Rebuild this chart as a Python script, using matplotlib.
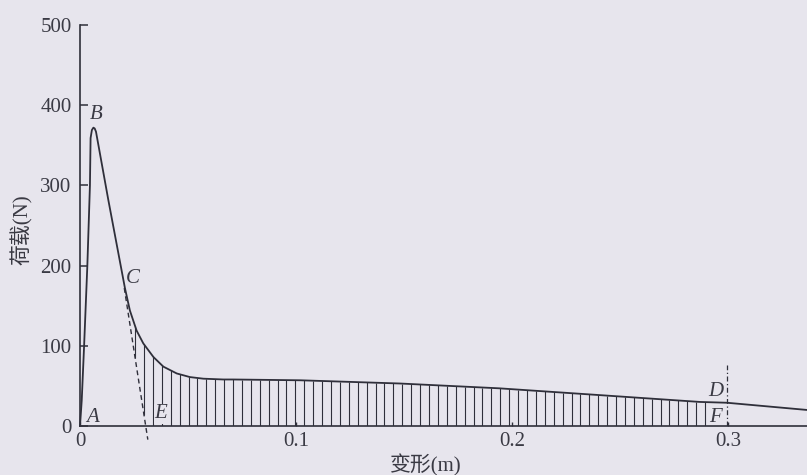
import numpy as np
import matplotlib
matplotlib.use('Agg')
import matplotlib.pyplot as plt

# ---- data ----
deformation = [0.0, 0.0008, 0.0019, 0.0034, 0.0046, 0.0049, 0.0055, 0.0062, 0.0068, 0.0074,
               0.0131, 0.0208, 0.0231, 0.0262, 0.0293, 0.0340, 0.0386, 0.0448, 0.0509,
               0.0571, 0.0664, 0.0708, 0.1020, 0.1480, 0.1940, 0.2407, 0.2870, 0.2995, 0.3366]
load = [0, 32, 100, 200, 300, 359, 369, 372, 371, 367,
        282, 172, 144, 119, 103, 86, 74, 65.5, 61,
        59, 58, 58, 57, 53, 47, 38.5, 30, 29, 20]

unload_x = [0.0205, 0.0314]
unload_y = [172, -17]

point_names = ['A', 'B', 'C', 'E', 'D', 'F']
point_x = [0.0058, 0.0073, 0.0243, 0.0375, 0.2942, 0.2940]
point_y = [10.5, 388, 184, 15, 42.6, 10]

d_x = 0.2995
d_top = 76

x_ticks = [0, 0.1, 0.2, 0.3]
x_tick_labels = ['0', '0.1', '0.2', '0.3']
y_ticks = [0, 100, 200, 300, 400, 500]
y_tick_labels = ['0', '100', '200', '300', '400', '500']

x_label = '变形(m)'
y_label = '荷载(N)'

# ---- style ----
bg = '#e7e5ed'
ink = '#2f2f3a'
txt = '#3a3a44'
fam = ['Liberation Serif', 'Noto Sans CJK SC', 'DejaVu Sans']
plt.rcParams['font.family'] = fam

fig = plt.figure(figsize=(8.07, 4.75), dpi=100, facecolor=bg)
ax = fig.add_axes([80 / 807, 49 / 475, 727 / 807, 401 / 475])
ax.set_facecolor(bg)
ax.set_xlim(0, 727 / 2160)
ax.set_ylim(0, 500)

# main curve
ax.plot(deformation, load, color=ink, lw=1.3, clip_on=False, zorder=3,
        solid_joinstyle='round')

# unloading dashed line C-E
ax.plot(unload_x, unload_y, color=ink, lw=1.0, dashes=(3.5, 2.5), clip_on=False, zorder=3)

# vertical hatch lines under the curve (between unloading line/axis and curve)
hx = np.linspace(0.0255, 0.2894, 65)
top = np.interp(hx, deformation, load)
slope = (unload_y[1] - unload_y[0]) / (unload_x[1] - unload_x[0])
low = np.maximum(0, unload_y[0] + slope * (hx - unload_x[0]))
ax.vlines(hx, low, top, color=ink, lw=0.8, zorder=2)

# dash-dot line at D-F
ax.plot([d_x, d_x], [0, d_top], color=ink, lw=0.9, dashes=(4, 2, 1, 2), zorder=3)

# point labels
for n, x, y in zip(point_names, point_x, point_y):
    ax.text(x, y, n, ha='center', va='center', fontsize=15, style='italic',
            color=txt, family=fam, zorder=4,
            bbox=dict(facecolor=bg, edgecolor='none', pad=0.3) if n == 'E' else None)

# axes styling
for s in ['top', 'right']:
    ax.spines[s].set_visible(False)
for s in ['left', 'bottom']:
    ax.spines[s].set_color(ink)
    ax.spines[s].set_linewidth(1.2)

ax.set_xticks(x_ticks)
ax.set_xticklabels(x_tick_labels)
ax.set_yticks(y_ticks)
ax.set_yticklabels(y_tick_labels)
ax.tick_params(axis='y', direction='in', length=6, width=1.1, color=ink,
               labelsize=15, labelcolor=txt, pad=6)
ax.tick_params(axis='x', direction='in', length=3, width=1.0, color=ink,
               labelsize=15, labelcolor=txt, pad=4)

fig.text(22 / 807, 1 - 230 / 475, y_label, rotation=90, ha='center', va='center',
         fontsize=15, color=txt, family=fam)
fig.text(426 / 807, 1 - 465 / 475, x_label, ha='center', va='center',
         fontsize=15, color=txt, family=fam)

fig.savefig('out.png', dpi=100, facecolor=bg)
